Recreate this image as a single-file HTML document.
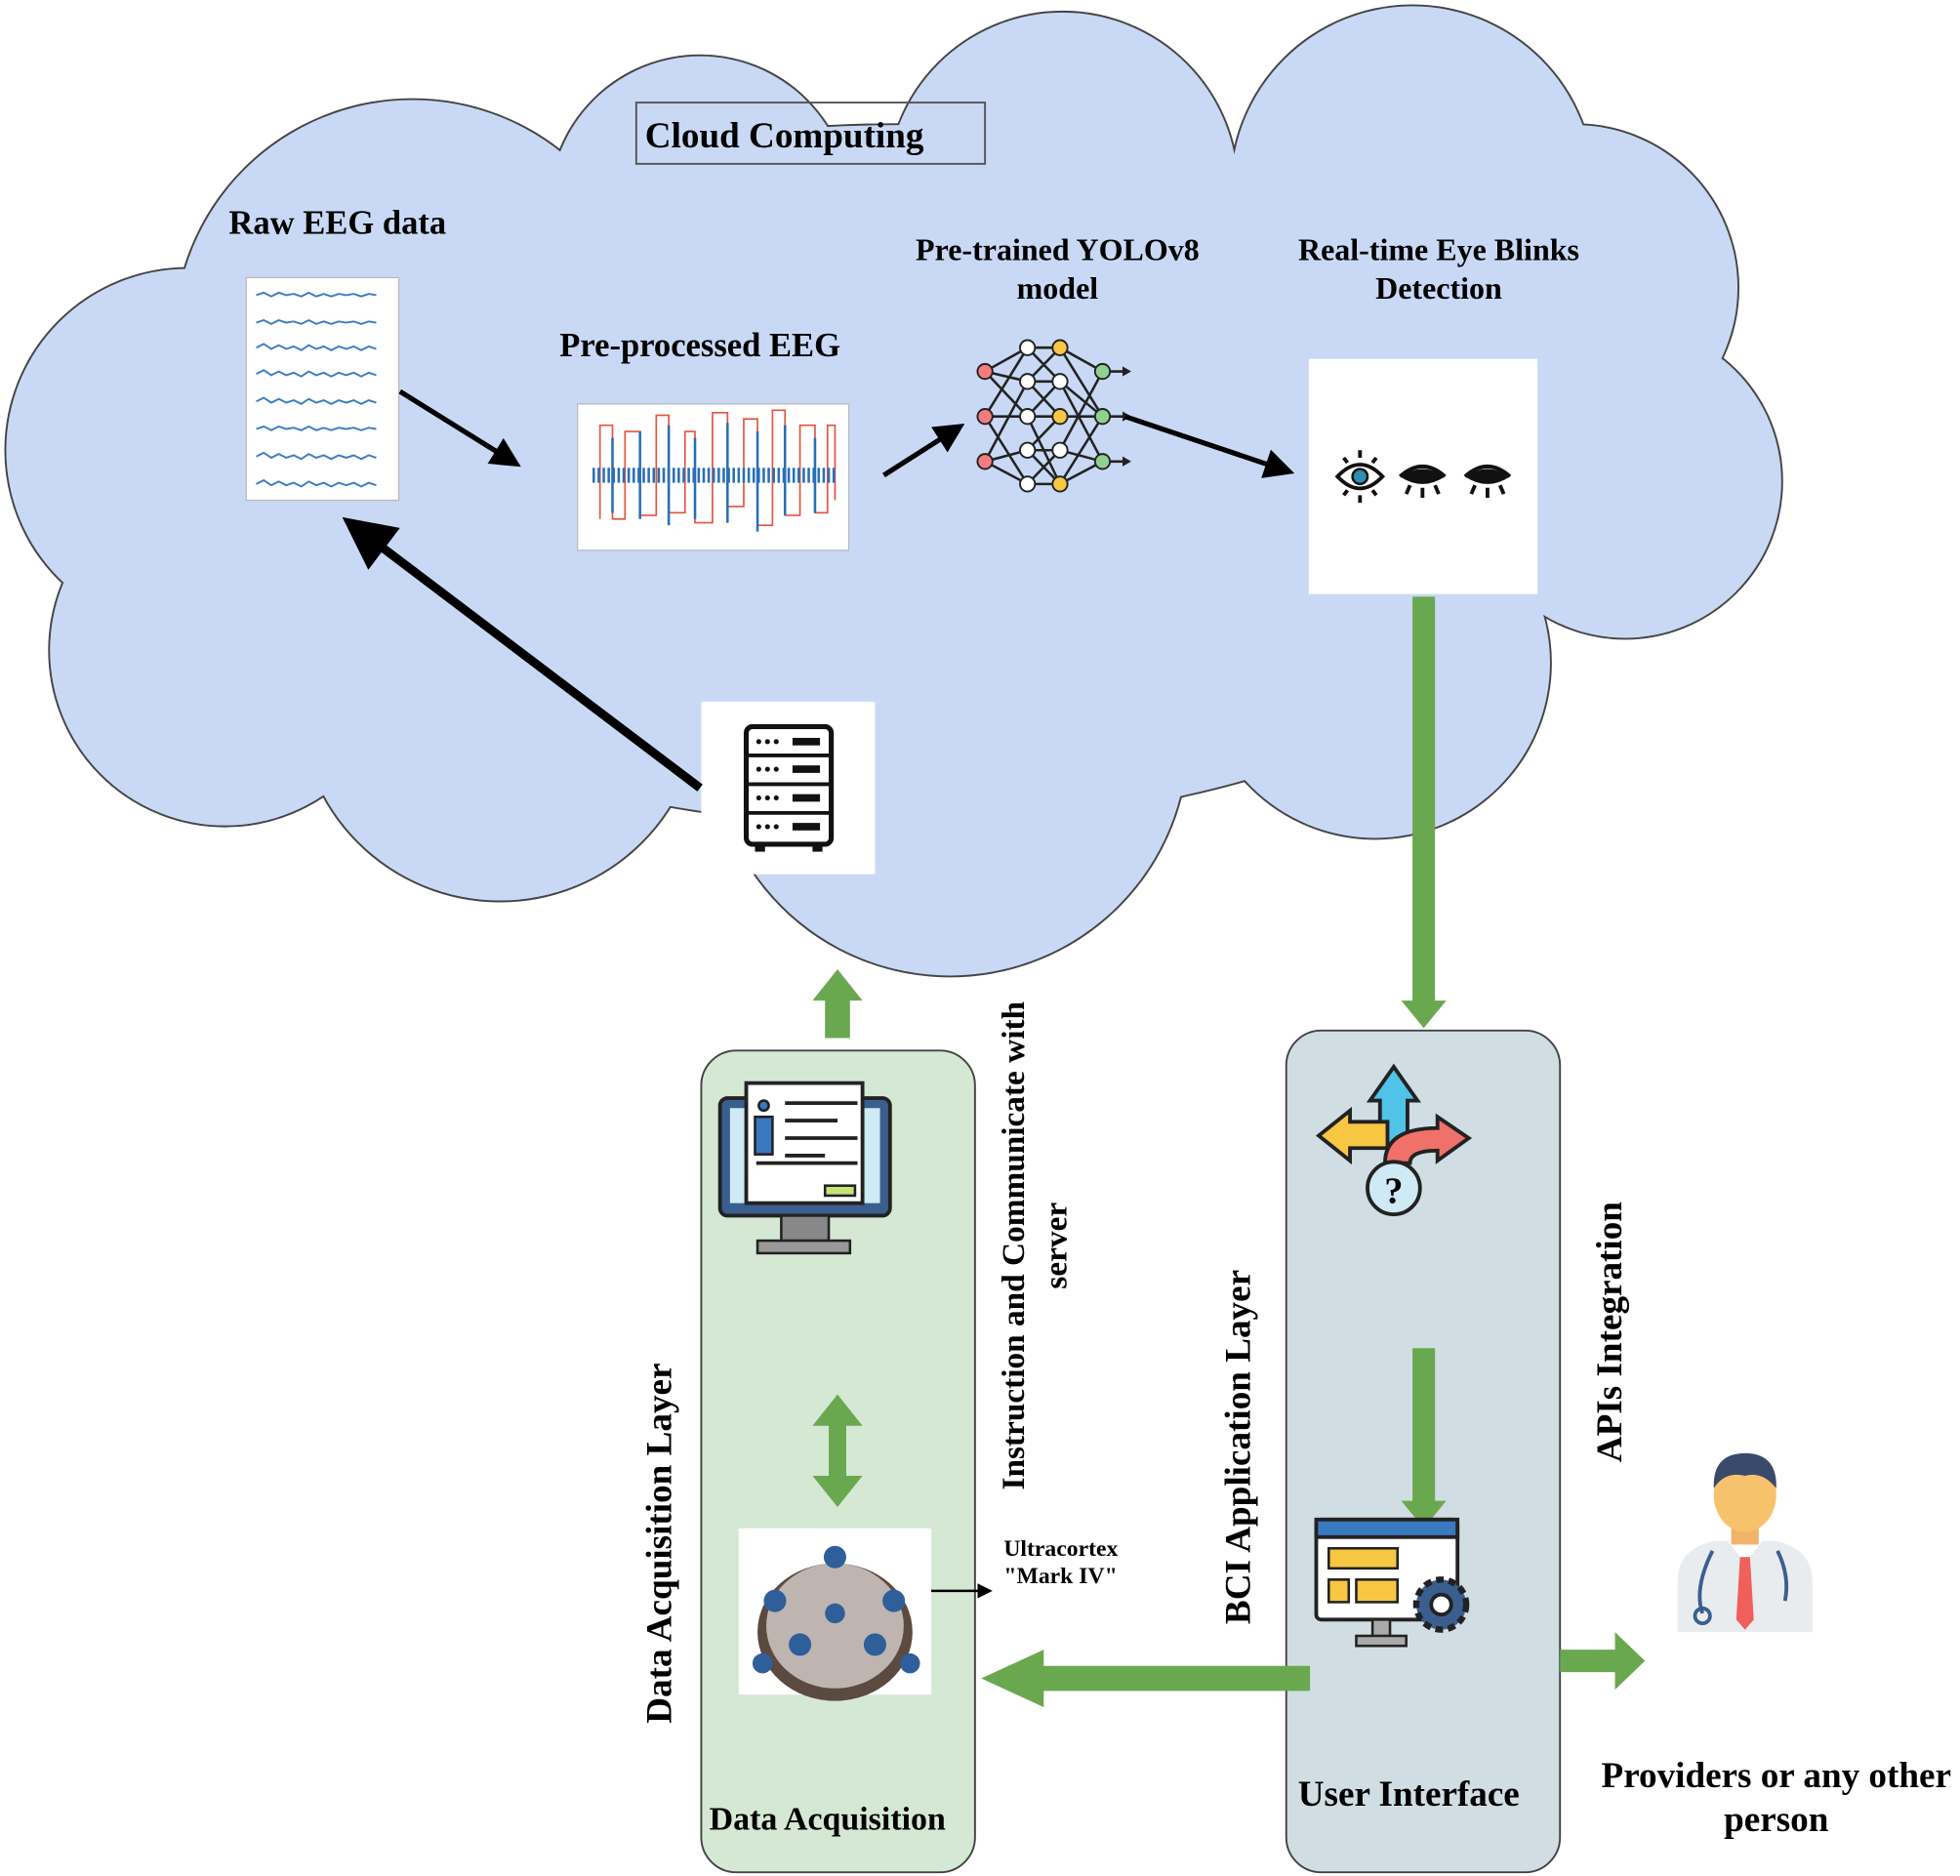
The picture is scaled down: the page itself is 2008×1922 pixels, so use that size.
<!DOCTYPE html>
<html><head><meta charset="utf-8"><style>
html,body{margin:0;padding:0;background:#fff}
svg{display:block}
text{font-family:"Liberation Serif",serif;font-weight:bold;fill:#000}
</style></head><body>
<svg width="2008" height="1922" viewBox="0 0 1568 1500" preserveAspectRatio="none" xmlns="http://www.w3.org/2000/svg">
<defs>
<marker id="ah" markerWidth="6" markerHeight="6" refX="4" refY="3" orient="auto" markerUnits="strokeWidth"><path d="M0,0 L6,3 L0,6 z" fill="#000"/></marker>
<g id="lobes">
<circle cx="150" cy="360" r="145"/><circle cx="330" cy="270" r="190"/><circle cx="560" cy="165" r="120"/>
<circle cx="850" cy="150" r="140"/><circle cx="1130" cy="150" r="145"/><circle cx="1260" cy="230" r="130"/>
<circle cx="1300" cy="385" r="125"/><circle cx="1100" cy="530" r="140"/><circle cx="760" cy="590" r="190"/>
<circle cx="400" cy="560" r="160"/><circle cx="180" cy="520" r="140"/><ellipse cx="720" cy="380" rx="560" ry="280"/>
</g>
</defs>
<use href="#lobes" fill="#c9d9f5" stroke="#444" stroke-width="3"/>
<use href="#lobes" fill="#c9d9f5"/>
<rect x="509" y="82" width="279" height="49" fill="none" stroke="#555" stroke-width="1.5"/>
<text x="516" y="118" font-size="29">Cloud Computing</text>
<text x="270" y="187" font-size="27" text-anchor="middle">Raw EEG data</text>
<rect x="197" y="222" width="122" height="178" fill="#fff" stroke="#bbb"/>
<g stroke="#3a7dbf" stroke-width="1.5" fill="none">
<path d="M205,236 l6,-2 6,3 6,-3 6,2 6,-1 6,2 6,-3 6,3 6,-2 6,2 6,-2 6,1 6,-1 6,2 6,-2 6,1"/>
<path d="M205,258 l6,-2 6,3 6,-3 6,2 6,-1 6,2 6,-3 6,3 6,-2 6,2 6,-2 6,1 6,-1 6,2 6,-2 6,1"/>
<path d="M205,278 l6,-3 6,4 6,-3 6,3 6,-2 6,3 6,-4 6,3 6,-2 6,3 6,-3 6,2 6,-2 6,3 6,-3 6,2"/>
<path d="M205,299 l6,-3 6,4 6,-3 6,3 6,-2 6,3 6,-4 6,3 6,-2 6,3 6,-3 6,2 6,-2 6,3 6,-3 6,2"/>
<path d="M205,321 l6,-3 6,4 6,-3 6,3 6,-2 6,3 6,-4 6,3 6,-2 6,3 6,-3 6,2 6,-2 6,3 6,-3 6,2"/>
<path d="M205,343 l6,-2 6,3 6,-3 6,2 6,-1 6,2 6,-3 6,3 6,-2 6,2 6,-2 6,1 6,-1 6,2 6,-2 6,1"/>
<path d="M205,365 l6,-3 6,4 6,-3 6,3 6,-2 6,3 6,-4 6,3 6,-2 6,3 6,-3 6,2 6,-2 6,3 6,-3 6,2"/>
<path d="M205,387 l6,-3 6,4 6,-3 6,3 6,-2 6,3 6,-4 6,3 6,-2 6,3 6,-3 6,2 6,-2 6,3 6,-3 6,2"/>
</g>
<text x="560" y="285" font-size="27" text-anchor="middle">Pre-processed EEG</text>
<rect x="462" y="323" width="217" height="117" fill="#fff" stroke="#bbb"/>
<path d="M480,415 V340 H490 V415 H500 V345 H512 V412 H525 V332 H535 V410 H548 V345 H556 V418 H570 V330 H582 V405 H595 V335 H606 V420 H618 V328 H628 V412 H640 V340 H652 V410 H662 V340 H668 V400" fill="none" stroke="#e5533d" stroke-width="1.3"/>
<path d="M474,380 H670" stroke="#2a6fb3" stroke-width="12" stroke-dasharray="2 2"/>
<g stroke="#2a6fb3" stroke-width="2"><path d="M490,350 V410 M512,345 V415 M535,340 V420 M556,350 V415 M582,338 V418 M606,345 V425 M628,340 V412 M652,350 V410"/></g>
<text x="846" y="208" font-size="25" text-anchor="middle">Pre-trained YOLOv8</text>
<text x="846" y="239" font-size="25" text-anchor="middle">model</text>
<g stroke="#222" stroke-width="2" fill="none">
<path d="M788,297 L822,278 L848,278 L882,297 M788,297 L822,305 L848,305 L882,333 M788,333 L822,333 L848,333 L882,333 M788,369 L822,360 L848,360 L882,369 M788,369 L822,387 L848,387 L882,369 M788,297 L822,333 M848,360 L882,297 M788,333 L822,278 M788,333 L822,387 M822,278 L848,305 M822,305 L848,278 M822,333 L848,387 M822,360 L848,333 M822,387 L848,360 M848,278 L882,333 M848,387 L882,333 M848,305 L882,369 M788,369 L822,305 M822,305 L848,333 M822,333 L848,305 M822,360 L848,387"/>
<path d="M882,297 H903 M882,333 H903 M882,369 H903"/>
</g>
<g fill="#222"><path d="M898,293 L905,297 L898,301Z M898,329 L905,333 L898,337Z M898,365 L905,369 L898,373Z"/></g>
<g stroke="#222" stroke-width="1.5">
<circle cx="788" cy="297" r="6" fill="#f47c7c"/><circle cx="788" cy="333" r="6" fill="#f47c7c"/><circle cx="788" cy="369" r="6" fill="#f47c7c"/>
<circle cx="822" cy="278" r="6" fill="#fff"/><circle cx="822" cy="305" r="6" fill="#fff"/><circle cx="822" cy="333" r="6" fill="#fff"/><circle cx="822" cy="360" r="6" fill="#fff"/><circle cx="822" cy="387" r="6" fill="#fff"/>
<circle cx="848" cy="278" r="6" fill="#f7c744"/><circle cx="848" cy="305" r="6" fill="#fff"/><circle cx="848" cy="333" r="6" fill="#f7c744"/><circle cx="848" cy="360" r="6" fill="#fff"/><circle cx="848" cy="387" r="6" fill="#f7c744"/>
<circle cx="882" cy="297" r="6" fill="#8fd18f"/><circle cx="882" cy="333" r="6" fill="#8fd18f"/><circle cx="882" cy="369" r="6" fill="#8fd18f"/>
</g>
<text x="1151" y="208" font-size="25" text-anchor="middle">Real-time Eye Blinks</text>
<text x="1151" y="239" font-size="25" text-anchor="middle">Detection</text>
<rect x="1047" y="287" width="183" height="188" fill="#fff"/>
<g stroke="#111" stroke-width="3" fill="none">
<path d="M1070,381 Q1088,362 1106,381 Q1088,400 1070,381 Z"/><path d="M1088,360 V366 M1075,366 l3,4 M1101,366 l-3,4 M1088,396 V402 M1075,396 l3,-4 M1101,396 l-3,-4"/>
<path d="M1120,381 Q1138,365 1156,381"/><path d="M1128,388 l-3,7 M1138,390 v8 M1148,388 l3,7"/>
<path d="M1172,381 Q1190,365 1208,381"/><path d="M1180,388 l-3,7 M1190,390 v8 M1200,388 l3,7"/>
</g>
<circle cx="1088" cy="381" r="6" fill="#2b8fb3" stroke="#111" stroke-width="2"/>
<path d="M1120,381 Q1138,393 1156,381 Q1138,369 1120,381Z" fill="#111"/>
<path d="M1172,381 Q1190,393 1208,381 Q1190,369 1172,381Z" fill="#111"/>
<!-- server -->
<rect x="561" y="561" width="139" height="138" fill="#fff"/>
<rect x="597" y="581" width="68" height="94" rx="5" fill="none" stroke="#111" stroke-width="4"/>
<g stroke="#111" stroke-width="3" fill="none"><path d="M599,604 H663 M599,627 H663 M599,650 H663"/></g>
<g fill="#111"><rect x="634" y="590" width="22" height="6"/><rect x="634" y="612" width="22" height="6"/><rect x="634" y="635" width="22" height="6"/><rect x="634" y="658" width="22" height="6"/>
<circle cx="607" cy="593" r="2"/><circle cx="614" cy="593" r="2"/><circle cx="621" cy="593" r="2"/>
<circle cx="607" cy="615" r="2"/><circle cx="614" cy="615" r="2"/><circle cx="621" cy="615" r="2"/>
<circle cx="607" cy="638" r="2"/><circle cx="614" cy="638" r="2"/><circle cx="621" cy="638" r="2"/>
<circle cx="607" cy="661" r="2"/><circle cx="614" cy="661" r="2"/><circle cx="621" cy="661" r="2"/>
<rect x="604" y="675" width="8" height="6"/><rect x="650" y="675" width="8" height="6"/></g>
<line x1="320" y1="313" x2="410" y2="369" stroke="#000" stroke-width="4" marker-end="url(#ah)"/>
<line x1="707" y1="380" x2="765" y2="343" stroke="#000" stroke-width="4" marker-end="url(#ah)"/>
<line x1="900" y1="333" x2="1028" y2="376" stroke="#000" stroke-width="4" marker-end="url(#ah)"/>
<line x1="560" y1="630" x2="285" y2="422" stroke="#000" stroke-width="7" marker-end="url(#ah)"/>
<rect x="561" y="840" width="219" height="657" rx="28" fill="#d5e8d4" stroke="#444" stroke-width="1.5"/>
<rect x="1029" y="824" width="219" height="673" rx="28" fill="#d0dee3" stroke="#444" stroke-width="1.5"/>
<g fill="#6aa84f">
<path d="M1130,477 H1148 V800 H1157 L1139,822 L1121,800 H1130Z"/>
<path d="M660,830 H680 V800 H690 L670,775 L650,800 H660Z"/>
<path d="M663,1140 V1180 H650 L670,1205 L690,1180 H677 V1140 H690 L670,1115 L650,1140Z"/>
<path d="M1048,1332 V1352 H835 V1365 L785,1342 L835,1319 V1332Z"/>
<path d="M1248,1319 H1292 V1305 L1316,1328 L1292,1351 V1337 H1248Z"/>
<path d="M1130,1078 H1148 V1200 H1157 L1139,1222 L1121,1200 H1130Z"/>
</g>
<rect x="576" y="878" width="136" height="94" rx="6" fill="#3a5f8f" stroke="#222" stroke-width="3"/>
<rect x="584" y="886" width="120" height="76" fill="#cfe9f5"/>
<rect x="597" y="866" width="93" height="96" fill="#fff" stroke="#222" stroke-width="3"/>
<g stroke="#222" stroke-width="3"><path d="M628,882 H686 M628,896 H670 M628,910 H686 M628,924 H660 M605,930 H686"/></g>
<rect x="604" y="893" width="14" height="30" fill="#3a78c0" stroke="#222" stroke-width="2"/><circle cx="611" cy="884" r="4" fill="#3a78c0" stroke="#222" stroke-width="2"/>
<rect x="660" y="948" width="24" height="8" fill="#c6e27a" stroke="#222" stroke-width="2"/>
<rect x="625" y="972" width="38" height="20" fill="#888" stroke="#222" stroke-width="2"/><rect x="606" y="992" width="74" height="10" fill="#999" stroke="#222" stroke-width="2"/>
<rect x="591" y="1222" width="154" height="133" fill="#fff"/>
<ellipse cx="668" cy="1305" rx="62" ry="55" fill="#5a4a40"/>
<ellipse cx="668" cy="1300" rx="55" ry="50" fill="#d8d0cc" opacity="0.8"/>
<g fill="#2f5f9a"><circle cx="620" cy="1280" r="9"/><circle cx="715" cy="1280" r="9"/><circle cx="668" cy="1245" r="9"/><circle cx="640" cy="1315" r="9"/><circle cx="700" cy="1315" r="9"/><circle cx="610" cy="1330" r="8"/><circle cx="728" cy="1330" r="8"/><circle cx="668" cy="1290" r="8"/></g>
<line x1="745" y1="1272" x2="790" y2="1272" stroke="#000" stroke-width="2" marker-end="url(#ah)"/>
<text x="803" y="1244" font-size="18.5">Ultracortex</text>
<text x="803" y="1266" font-size="18.5">"Mark IV"</text>
<path d="M1104,880 H1096 L1115,853 L1134,880 H1126 V915 H1104Z" fill="#4fc3e8" stroke="#222" stroke-width="3"/>
<path d="M1080,897 V888 L1055,908 L1080,928 V918 H1110 V897Z" fill="#f7c744" stroke="#222" stroke-width="3"/>
<path d="M1108,930 Q1108,902 1150,902 V893 L1175,910 L1150,928 V920 Q1128,920 1128,930Z" fill="#f0706a" stroke="#222" stroke-width="3"/>
<circle cx="1115" cy="950" r="21" fill="#cfe9f5" stroke="#222" stroke-width="3"/>
<text x="1115" y="962" font-size="30" text-anchor="middle" font-family="Liberation Sans">?</text>
<rect x="1053" y="1215" width="113" height="80" rx="4" fill="#fff" stroke="#222" stroke-width="3"/>
<rect x="1053" y="1215" width="113" height="14" fill="#3a78c0" stroke="#222" stroke-width="3"/>
<rect x="1063" y="1238" width="55" height="16" fill="#f7c744" stroke="#222" stroke-width="2"/>
<rect x="1063" y="1263" width="16" height="18" fill="#f7c744" stroke="#222" stroke-width="2"/><rect x="1085" y="1263" width="33" height="18" fill="#f7c744" stroke="#222" stroke-width="2"/>
<rect x="1098" y="1295" width="14" height="14" fill="#aaa" stroke="#222" stroke-width="2"/><rect x="1085" y="1308" width="40" height="8" fill="#aaa" stroke="#222" stroke-width="2"/>
<circle cx="1153" cy="1283" r="20" fill="#3a5f8f" stroke="#222" stroke-width="5" stroke-dasharray="6 4"/><circle cx="1153" cy="1283" r="8" fill="#fff" stroke="#222" stroke-width="3"/>
<path d="M1342,1305 V1265 Q1342,1238 1372,1232 H1420 Q1450,1238 1450,1265 V1305Z" fill="#e8ecef"/>
<path d="M1382,1232 L1396,1250 L1410,1232Z" fill="#fff"/>
<path d="M1392,1245 L1400,1245 L1403,1295 L1396,1303 L1389,1295Z" fill="#f0605a"/>
<rect x="1385" y="1215" width="22" height="20" fill="#f2b36a"/>
<ellipse cx="1396" cy="1195" rx="25" ry="30" fill="#f7c26c"/>
<path d="M1371,1190 Q1370,1162 1396,1162 Q1422,1162 1421,1190 Q1410,1176 1396,1180 Q1380,1176 1371,1190Z" fill="#3a4a6a"/>
<path d="M1370,1240 Q1355,1270 1362,1290" fill="none" stroke="#3a5f8f" stroke-width="3"/><circle cx="1362" cy="1292" r="6" fill="none" stroke="#3a5f8f" stroke-width="3"/>
<path d="M1422,1240 Q1432,1260 1428,1280" fill="none" stroke="#3a5f8f" stroke-width="3"/>
<text x="662" y="1463" font-size="26.5" text-anchor="middle">Data Acquisition</text>
<text x="1127" y="1444" font-size="29" text-anchor="middle">User Interface</text>
<text x="1421" y="1429" font-size="29" text-anchor="middle">Providers or any other</text>
<text x="1421" y="1464" font-size="29" text-anchor="middle">person</text>
<text transform="translate(537,1234) rotate(-90)" font-size="29" text-anchor="middle">Data Acquisition Layer</text>
<text transform="translate(819,996) rotate(-90)" font-size="26" text-anchor="middle">Instruction and Communicate with</text>
<text transform="translate(853,996) rotate(-90)" font-size="26" text-anchor="middle">server</text>
<text transform="translate(1000,1157) rotate(-90)" font-size="29" text-anchor="middle">BCI Application Layer</text>
<text transform="translate(1297,1065) rotate(-90)" font-size="29" text-anchor="middle">APIs Integration</text>
</svg>
</body></html>
